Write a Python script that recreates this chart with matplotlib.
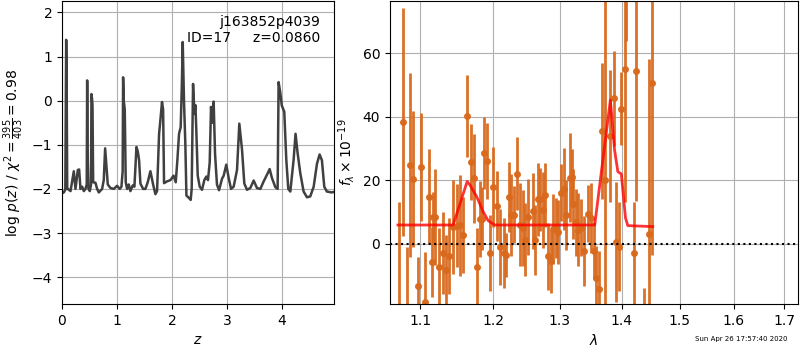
import numpy as np
import matplotlib.pyplot as plt
from matplotlib.ticker import FixedLocator, FixedFormatter, NullLocator

# redshift probability curve (left)
z_grid = [0.00, 0.033, 0.06, 0.076, 0.084, 0.095, 0.106, 0.155, 0.215, 0.245, 0.288, 0.312,
          0.336, 0.367, 0.397, 0.427, 0.450, 0.458, 0.466, 0.482, 0.506, 0.528, 0.536, 0.546,
          0.555, 0.567, 0.609, 0.639, 0.67, 0.70, 0.73, 0.76, 0.785, 0.809, 0.833, 0.882,
          0.942, 1.003, 1.05, 1.082, 1.104, 1.112, 1.124, 1.142, 1.16, 1.185, 1.215, 1.245,
          1.288, 1.318, 1.355, 1.379, 1.403, 1.427, 1.476, 1.518, 1.56, 1.609, 1.658, 1.70,
          1.73, 1.767, 1.79, 1.82, 1.84, 1.857, 1.912, 1.973, 2.03, 2.07, 2.10, 2.13, 2.16,
          2.18, 2.197, 2.22, 2.245, 2.264, 2.306, 2.342, 2.36, 2.385, 2.41, 2.428, 2.445,
          2.47, 2.506, 2.548, 2.59, 2.627, 2.657, 2.688, 2.712, 2.736, 2.76, 2.785, 2.82,
          2.858, 2.912, 2.942, 2.99, 3.033, 3.076, 3.124, 3.185, 3.227, 3.276, 3.318, 3.367,
          3.427, 3.488, 3.548, 3.61, 3.67, 3.73, 3.779, 3.82, 3.882, 3.924, 3.942, 3.97,
          4.0, 4.045, 4.082, 4.118, 4.155, 4.215, 4.25, 4.288, 4.336, 4.397, 4.458, 4.518,
          4.58, 4.64, 4.688, 4.73, 4.773, 4.82, 4.91, 4.973]
logp = [-2.10, -2.08, -2.02, 1.38, 0.60, -2.00, -2.00, -2.05, -1.60, -2.00, -1.57, -1.56,
        -2.00, -1.95, -2.05, -2.00, -1.90, 0.46, -1.20, -2.00, -2.05, -1.90, 0.15, 0.05,
        -0.10, -1.85, -1.86, -2.00, -2.08, -2.04, -2.00, -1.80, -1.08, -1.50, -1.90, -1.98,
        -2.00, -1.93, -2.00, -1.95, -1.60, 0.53, 0.00, -0.20, -1.85, -2.00, -1.90, -2.05,
        -1.92, -1.95, -1.05, -1.15, -1.35, -1.88, -2.00, -2.00, -1.85, -1.60, -1.90, -2.12,
        -2.05, -0.75, -0.45, -0.03, -0.20, -1.87, -1.83, -1.80, -1.70, -1.85, -1.34, -0.75,
        -0.60, 0.30, 1.33, 0.00, -1.00, -2.15, -2.20, -2.25, -2.00, 0.38, -0.30, -0.10,
        -0.70, -1.70, -1.95, -2.02, -1.80, -1.72, -1.80, -1.40, -0.14, -0.50, -0.02, -1.20,
        -1.90, -2.03, -1.77, -1.70, -1.45, -1.75, -2.00, -1.95, -1.57, -0.52, -1.11, -1.88,
        -2.02, -1.98, -1.81, -1.98, -2.00, -1.83, -1.68, -1.55, -1.75, -1.96, -2.00, 0.42,
        0.20, -0.11, -0.25, -1.34, -2.00, -2.06, -1.34, -0.75, -1.19, -1.64, -2.06, -2.19,
        -2.17, -1.95, -1.43, -1.22, -1.35, -1.95, -2.06, -2.08, -2.06]

# spectrum (right)
lam = [1.0720, 1.0771, 1.0823, 1.0866, 1.0908, 1.0970, 1.1013, 1.1058, 1.1111, 1.1155,
       1.1172, 1.1199, 1.1252, 1.1298, 1.1343, 1.1387, 1.1442, 1.1488, 1.1534, 1.1571,
       1.1635, 1.1686, 1.1724, 1.1771, 1.1817, 1.1837, 1.1865, 1.1913, 1.1954, 1.2007,
       1.2064, 1.2102, 1.2160, 1.2189, 1.2229, 1.2268, 1.2306, 1.2346, 1.2390, 1.2439,
       1.2475, 1.2514, 1.2589, 1.2625, 1.2665, 1.2695, 1.2732, 1.2767, 1.2817, 1.2859,
       1.2894, 1.2936, 1.2972, 1.3009, 1.3060, 1.3102, 1.3154, 1.3181, 1.3206, 1.3249,
       1.3285, 1.3339, 1.3381, 1.3451, 1.3499, 1.3536, 1.3580, 1.3622, 1.3671, 1.3715,
       1.3808, 1.3862, 1.3896, 1.3945, 1.3990, 1.4045, 1.4074, 1.4197, 1.4231, 1.4377,
       1.4457, 1.4509]
flux = [-21.0, 38.4, -25.0, 24.8, 20.4, -13.2, 24.3, -18.5, 14.8, -5.7,
        8.3, 8.4, -7.2, -2.9, -8.2, -3.8, 5.3, 5.7, 5.8, 2.8,
        40.3, 25.8, 20.6, -7.2, 7.9, 7.9, 28.6, 26.0, -2.9, 18.0,
        12.0, -0.9, -2.9, -3.5, 14.8, 9.1, 9.1, 22.0, 6.0, 5.0,
        1.3, 8.5, 10.4, 1.3, 14.0, 14.0, 10.5, 15.4, -4.0, -5.6,
        4.6, 5.0, 3.7, 16.1, 17.2, 9.1, 20.8, 21.0, 12.6, 6.7,
        4.4, 5.0, -2.2, 9.4, 8.2, -2.2, -10.7, -14.2, 35.5, 20.0,
        34.0, 45.9, 0.6, -0.9, 42.5, 55.0, 100.0, -2.9, 54.4, -30.0,
        3.1, 50.6]
flux_err = [34, 36, 24, 29, 21.5, 9, 17, 16, 15, 11,
            8, 15, 12, 13, 11, 12, 14.7, 13, 16, 12,
            13, 12, 14, 12, 12, 10, 11.5, 12, 12, 12.6,
            11, 12, 11, 7, 11, 13, 9, 11.5, 13, 12,
            11.6, 12, 12, 11, 11.5, 10, 12, 10, 10.5, 10,
            11, 9.5, 10, 9, 13, 11, 14, 9, 11, 10.5,
            11.5, 9, 11, 9, 11, 9, 10, 12, 21.5, 60,
            20.7, 15, 19, 14, 11.5, 42, 36, 16, 41, 16,
            55, 54]

# model
model_lam = [1.0711, 1.1442, 1.1635, 1.1672, 1.1767, 1.1860, 1.1930, 1.2025, 1.3552,
             1.3808, 1.3877, 1.3932, 1.3990, 1.4060, 1.4099, 1.4526]
model_flux = [5.9, 5.9, 19.6, 18.6, 14.9, 10.1, 7.3, 5.9, 5.9,
              45.3, 29.6, 22.7, 22.0, 8.1, 5.7, 5.4]

lam_ticks = [1.1, 1.2, 1.3, 1.4, 1.5, 1.6, 1.7]

fig = plt.figure(figsize=(8, 3.5), dpi=100)
ax1 = fig.add_axes([0.0775, 0.1314, 0.34, 0.8657])
ax2 = fig.add_axes([0.4875, 0.1314, 0.51, 0.8657])

ax1.plot(z_grid, logp, color='#404040', lw=1.8)
ax1.set_xlim(0, 4.95)
ax1.set_ylim(-4.61, 2.26)
ax1.set_yticks([-4, -3, -2, -1, 0, 1, 2])
ax1.set_xlabel(r'$z$')
ax1.set_ylabel(r'$\log\,p(z)\ /\ \chi^2=\frac{395}{403}=0.98$')
ax1.grid(color='#b0b0b0')
ax1.text(0.95, 0.955, 'j163852p4039\nID=17     z=0.0860', ha='right', va='top',
         transform=ax1.transAxes, fontsize=10)

ax2.errorbar(lam, flux, yerr=flux_err, fmt='o', color='#d9691c', ecolor='#d9691c',
             elinewidth=2, markersize=4, alpha=0.95, zorder=2)
ax2.plot(model_lam, model_flux, color='red', lw=2, alpha=0.8, zorder=3)
ax2.axhline(0, color='k', linestyle=':', lw=1.5, zorder=4)
ax2.set_xscale('log')
ax2.set_xlim(1.061, 1.728)
ax2.set_ylim(-19, 76.5)
ax2.xaxis.set_major_locator(FixedLocator(lam_ticks))
ax2.xaxis.set_major_formatter(FixedFormatter([f'{t:.1f}' for t in lam_ticks]))
ax2.xaxis.set_minor_locator(NullLocator())
ax2.set_yticks([0, 20, 40, 60])
ax2.set_xlabel(r'$\lambda$')
ax2.set_ylabel(r'$f_\lambda\times10^{-19}$')
ax2.grid(color='#b0b0b0')

fig.text(0.984, 0.022, 'Sun Apr 26 17:57:40 2020', ha='right', va='bottom', fontsize=5)

plt.savefig('out.png', dpi=100)
